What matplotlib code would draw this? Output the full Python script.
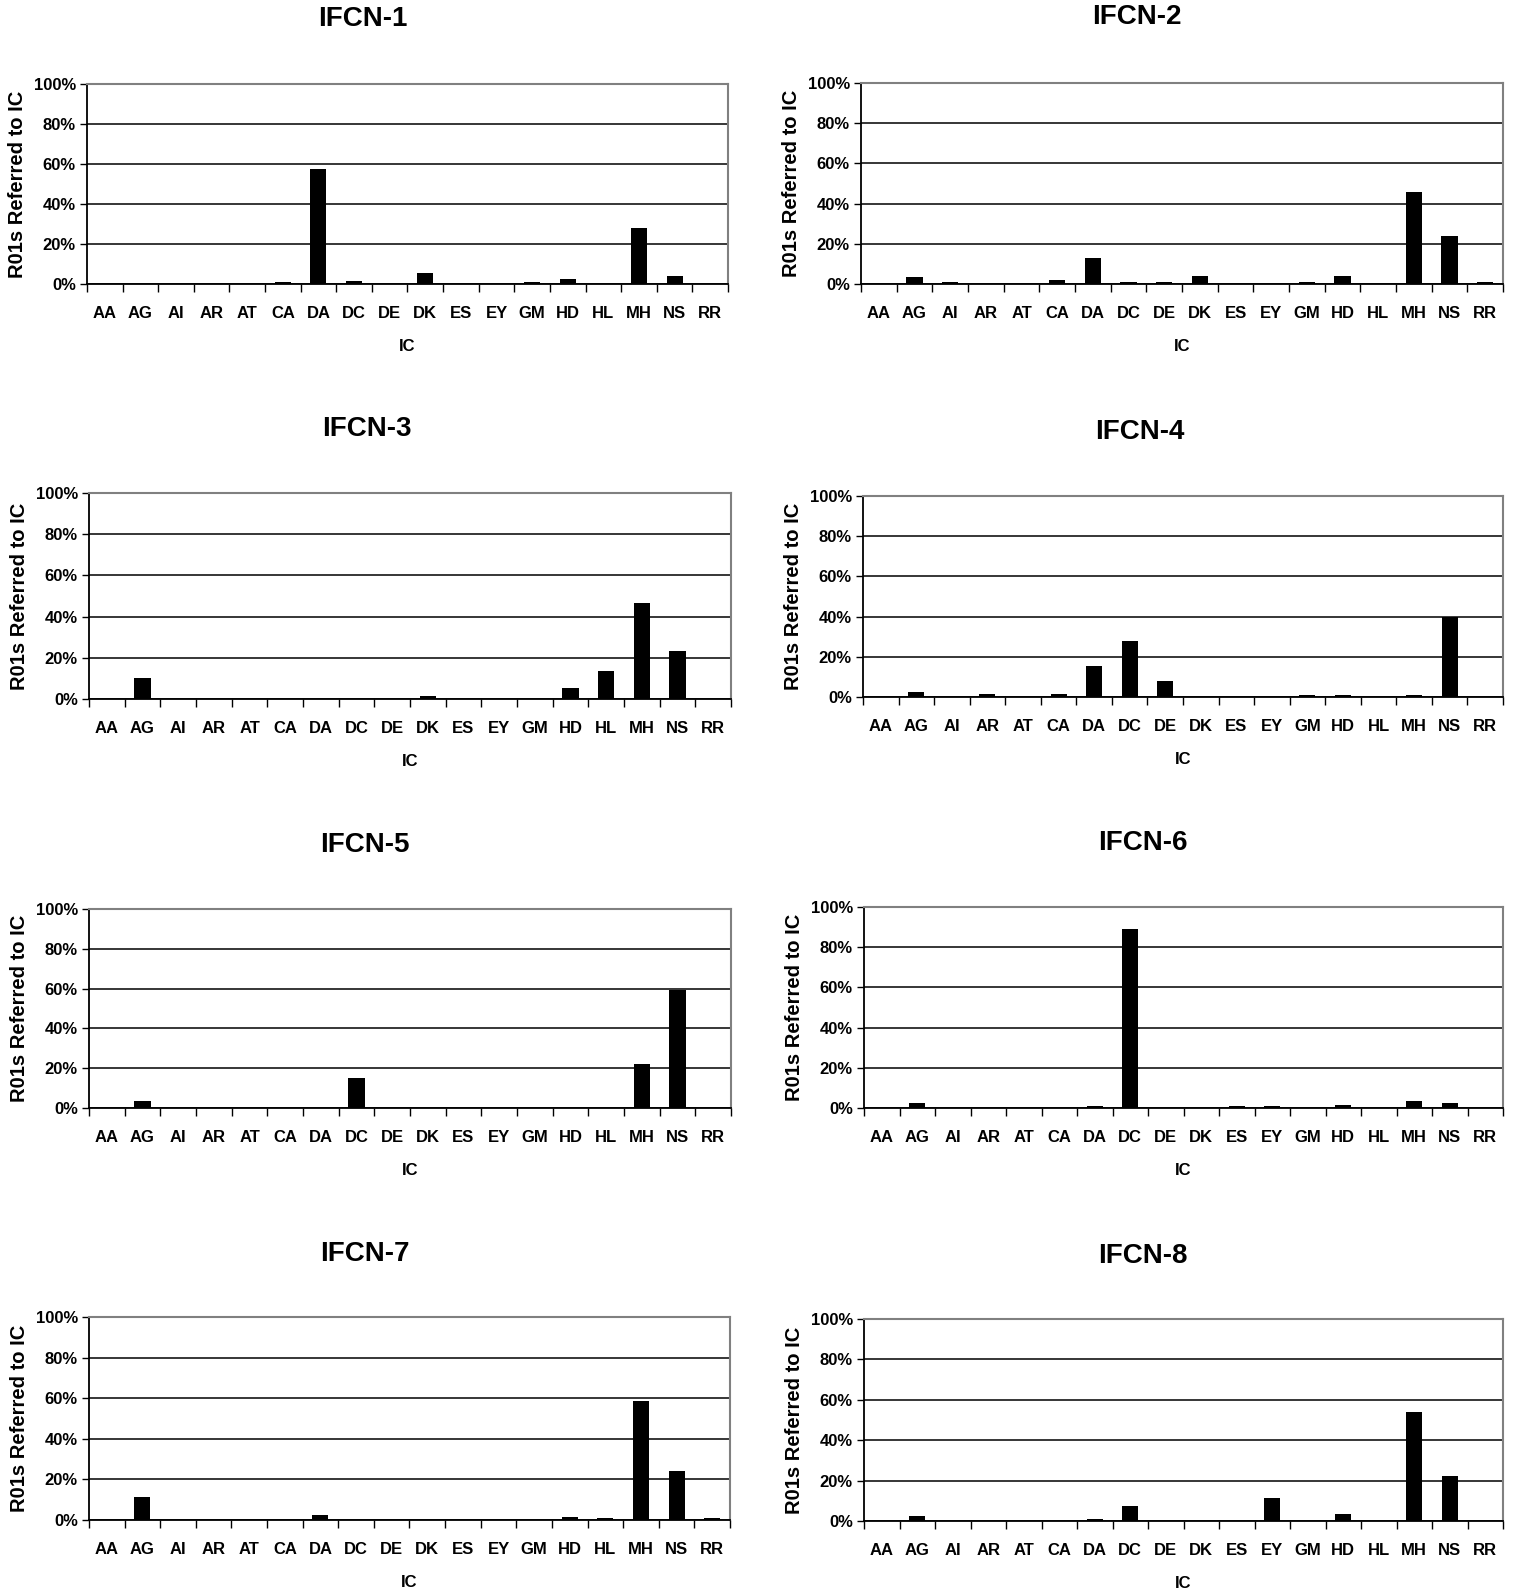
import matplotlib
matplotlib.use("Agg")
import matplotlib.pyplot as plt
from matplotlib.ticker import FixedLocator, PercentFormatter

plt.rcParams['font.family'] = ['Liberation Sans', 'DejaVu Sans']
plt.rcParams['font.weight'] = 'bold'

categories = ["AA", "AG", "AI", "AR", "AT", "CA", "DA", "DC", "DE", "DK",
              "ES", "EY", "GM", "HD", "HL", "MH", "NS", "RR"]

titles = ["IFCN-1", "IFCN-2", "IFCN-3", "IFCN-4",
          "IFCN-5", "IFCN-6", "IFCN-7", "IFCN-8"]

#                AA  AG   AI  AR   AT  CA   DA    DC   DE  DK   ES  EY    GM  HD   HL    MH    NS    RR
ifcn1 = [0,  0,   0,  0,   0,  1.0, 57.5, 1.5, 0,  5.5, 0,  0,    1.0, 2.5, 0,    28.0, 4.0,  0]
ifcn2 = [0,  3.5, 1,  0,   0,  2.0, 13.0, 1.0, 1,  4.0, 0,  0,    1.0, 4.0, 0,    46.0, 24.0, 1]
ifcn3 = [0, 10.0, 0,  0,   0,  0,   0,    0,   0,  1.5, 0,  0,    0,   5.5, 13.5, 46.5, 23.5, 0]
ifcn4 = [0,  2.5, 0,  1.5, 0,  1.5, 15.5, 28.0, 8, 0,   0,  0,    1.0, 1.0, 0,    1.0,  40.0, 0]
ifcn5 = [0,  3.5, 0,  0,   0,  0,   0,    15.0, 0, 0,   0,  0,    0,   0,   0,    22.0, 59.5, 0]
ifcn6 = [0,  2.5, 0,  0,   0,  0,   1.0,  89.0, 0, 0,   1,  1.0,  0,   1.5, 0,    3.5,  2.5,  0]
ifcn7 = [0, 11.5, 0,  0,   0,  0,   2.5,  0,   0,  0,   0,  0,    0,   1.5, 1.0,  58.5, 24.0, 1]
ifcn8 = [0,  2.5, 0,  0,   0,  0,   1.0,  7.5, 0,  0,   0,  11.5, 0,   3.5, 0,    54.0, 22.5, 0]

series = [ifcn1, ifcn2, ifcn3, ifcn4, ifcn5, ifcn6, ifcn7, ifcn8]

W, H = 1519, 1591
fig = plt.figure(figsize=(W / 100, H / 100), dpi=100)
fig.patch.set_facecolor('white')

# axes boxes in pixels: left, right, top, bottom
boxes = [(87, 728, 84, 284), (861, 1503, 83, 284),
         (89, 731, 493, 699), (863, 1503, 496, 697),
         (89, 731, 909, 1108), (864, 1503, 907, 1108),
         (89, 730, 1317, 1520), (864, 1503, 1319, 1521)]
title_pos = [(363, 19), (1137, 17), (367, 429), (1140, 432),
             (365, 845), (1143, 843), (365, 1254), (1143, 1256)]

x = list(range(len(categories)))
for i, (vals, title) in enumerate(zip(series, titles)):
    l, r, t, b = boxes[i]
    ax = fig.add_axes([l / W, 1 - b / H, (r - l) / W, (b - t) / H])
    ax.bar(x, vals, width=0.45, color='black', zorder=3)
    ax.set_xlim(-0.5, len(categories) - 0.5)
    ax.set_ylim(0, 100)
    ax.yaxis.set_major_locator(FixedLocator([0, 20, 40, 60, 80, 100]))
    ax.yaxis.set_major_formatter(PercentFormatter(decimals=0))
    ax.grid(axis='y', color='black', linewidth=1.1, zorder=1)
    ax.set_xticks(x)
    ax.set_xticklabels(categories)
    ax.set_xticks([k + 0.5 for k in range(-1, len(categories))], minor=True)
    ax.tick_params(axis='x', which='major', length=0, pad=15.5, labelsize=12)
    ax.tick_params(axis='x', which='minor', length=6, width=1, color='black')
    ax.tick_params(axis='y', which='major', length=5, width=1, pad=3, labelsize=12)
    for lab in ax.get_xticklabels() + ax.get_yticklabels():
        lab.set_fontweight('bold')
    for s in ['top', 'right']:
        ax.spines[s].set_color('#808080')
        ax.spines[s].set_linewidth(1.5)
    for s in ['left', 'bottom']:
        ax.spines[s].set_color('black')
        ax.spines[s].set_linewidth(1.3)
    ax.set_xlabel("IC", fontsize=12, fontweight='bold', labelpad=13)
    ax.set_ylabel("R01s Referred to IC", fontsize=14.5, fontweight='bold', labelpad=5)
    tx, ty = title_pos[i]
    fig.text(tx / W, 1 - ty / H, title, fontsize=20, fontweight='bold',
             ha='center', va='center')

fig.savefig("out.png", dpi=100, facecolor='white')
